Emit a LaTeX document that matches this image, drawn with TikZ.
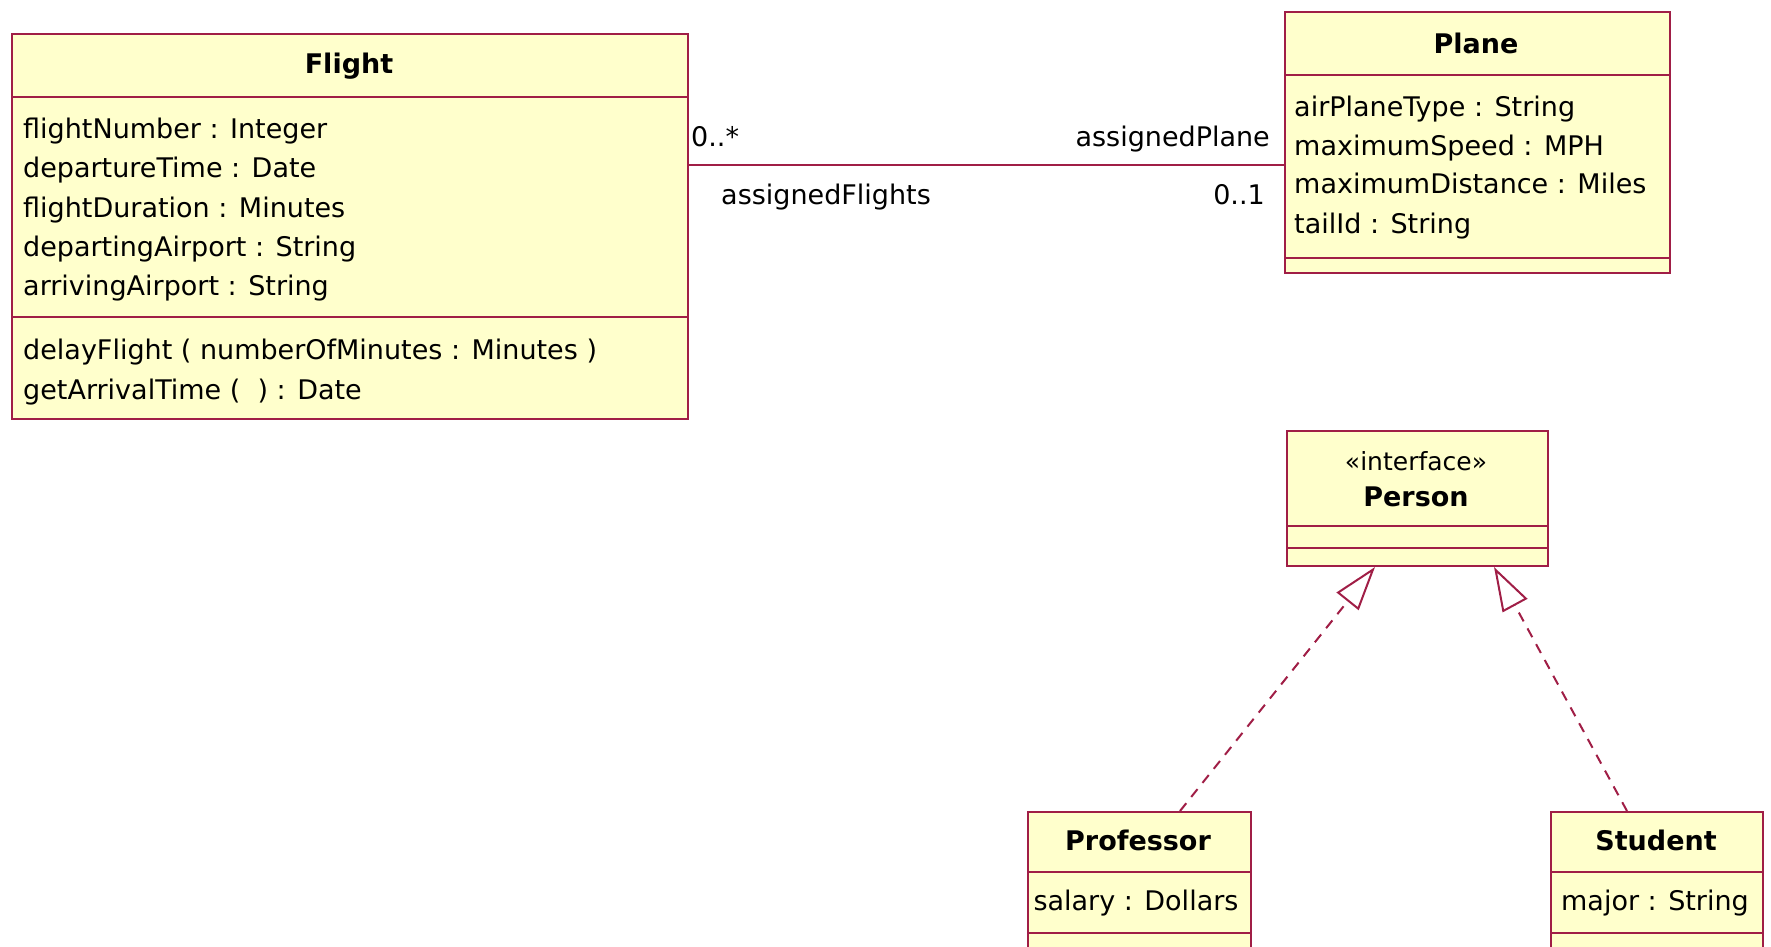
\documentclass[tikz,border=0pt]{standalone}
\usepackage{fontspec}
\setmainfont{DejaVu Sans}
\usetikzlibrary{arrows.meta,calc}
\definecolor{umlline}{RGB}{160,30,70}
\definecolor{umlfill}{RGB}{255,255,204}
\begin{document}
\begin{tikzpicture}[x=1pt,y=-1pt,
  classbox/.style={draw=umlline, fill=umlfill, line width=2pt, rectangle, inner sep=0pt, anchor=north west},
  sepline/.style={draw=umlline, line width=2pt},
  txt/.style={anchor=base west, inner sep=0pt, font=\fontsize{27}{32}\selectfont},
  rtxt/.style={anchor=base east, inner sep=0pt, font=\fontsize{27}{32}\selectfont},
  ctxt/.style={anchor=base, inner sep=0pt, font=\fontsize{27}{32}\selectfont},
  stereo/.style={anchor=base, inner sep=0pt, font=\fontsize{25}{30}\selectfont},
  classname/.style={anchor=base, inner sep=0pt, font=\fontsize{27}{32}\selectfont\bfseries},
  assoc/.style={draw=umlline, line width=2pt},
  realize/.style={draw=umlline, line width=2pt, dash pattern=on 10pt off 8pt,
    -{Triangle[open, length=44pt, width=28pt, line width=2pt]}},
]
\useasboundingbox (0,0) rectangle (1771,946);
\clip (0,0) rectangle (1771,946);

% Flight class
\node[classbox, minimum width=676pt, minimum height=385pt] (flight) at (11,33) {};
\draw[sepline] (flight.west |- 0,97) -- (flight.east |- 0,97);
\draw[sepline] (flight.west |- 0,317) -- (flight.east |- 0,317);
\node[classname] (flightname) at (349,73) {Flight};
\node[txt] (fa1) at (23,138) {flightNumber : Integer};
\node[txt] (fa2) at (23,177) {departureTime : Date};
\node[txt] (fa3) at (23,217) {flightDuration : Minutes};
\node[txt] (fa4) at (23,256) {departingAirport : String};
\node[txt] (fa5) at (23,295) {arrivingAirport : String};
\node[txt] (fo1) at (23,359) {delayFlight ( numberOfMinutes : Minutes )};
\node[txt] (fo2) at (23,399) {getArrivalTime (\ \ ) : Date};

% Plane class
\node[classbox, minimum width=385pt, minimum height=261pt] (plane) at (1284,11) {};
\draw[sepline] (plane.west |- 0,75) -- (plane.east |- 0,75);
\draw[sepline] (plane.west |- 0,258) -- (plane.east |- 0,258);
\node[classname] (planename) at (1476,53) {Plane};
\node[txt] (pa1) at (1294,116) {airPlaneType : String};
\node[txt] (pa2) at (1294,155) {maximumSpeed : MPH};
\node[txt] (pa3) at (1294,193) {maximumDistance : Miles};
\node[txt] (pa4) at (1294,233) {tailId : String};

% Association between Flight and Plane
\draw[assoc] (flight.east |- 0,165) -- (plane.west |- 0,165);
\node[txt] (mult1) at (691,146) {0..*};
\node[rtxt] (role1) at (1270,146) {assignedPlane};
\node[txt] (role2) at (721,204) {assignedFlights};
\node[rtxt] (mult2) at (1265,204) {0..1};

% Person interface
\node[classbox, minimum width=261pt, minimum height=135pt] (person) at (1286,430) {};
\draw[sepline] (person.west |- 0,526) -- (person.east |- 0,526);
\draw[sepline] (person.west |- 0,548) -- (person.east |- 0,548);
\node[stereo] (personstereo) at (1416,470) {«interface»};
\node[classname] (personname) at (1416,506) {Person};

% Professor class
\node[classbox, minimum width=223pt, minimum height=160pt] (prof) at (1027,811) {};
\draw[sepline] (prof.west |- 0,872) -- (prof.east |- 0,872);
\draw[sepline] (prof.west |- 0,933) -- (prof.east |- 0,933);
\node[classname] (profname) at (1138,850) {Professor};
\node[ctxt] (profattr) at (1136,910) {salary : Dollars};

% Student class
\node[classbox, minimum width=212pt, minimum height=160pt] (stud) at (1550,811) {};
\draw[sepline] (stud.west |- 0,872) -- (stud.east |- 0,872);
\draw[sepline] (stud.west |- 0,933) -- (stud.east |- 0,933);
\node[classname] (studname) at (1656,850) {Student};
\node[ctxt] (studattr) at (1655,910) {major : String};

% Realizations of Person
\draw[realize] ($(prof.north west)+(153,0)$) -- ($(person.south west)+(89,0)$);
\draw[realize] ($(stud.north west)+(77,0)$) -- ($(person.south west)+(208,0)$);
\end{tikzpicture}
\end{document}
